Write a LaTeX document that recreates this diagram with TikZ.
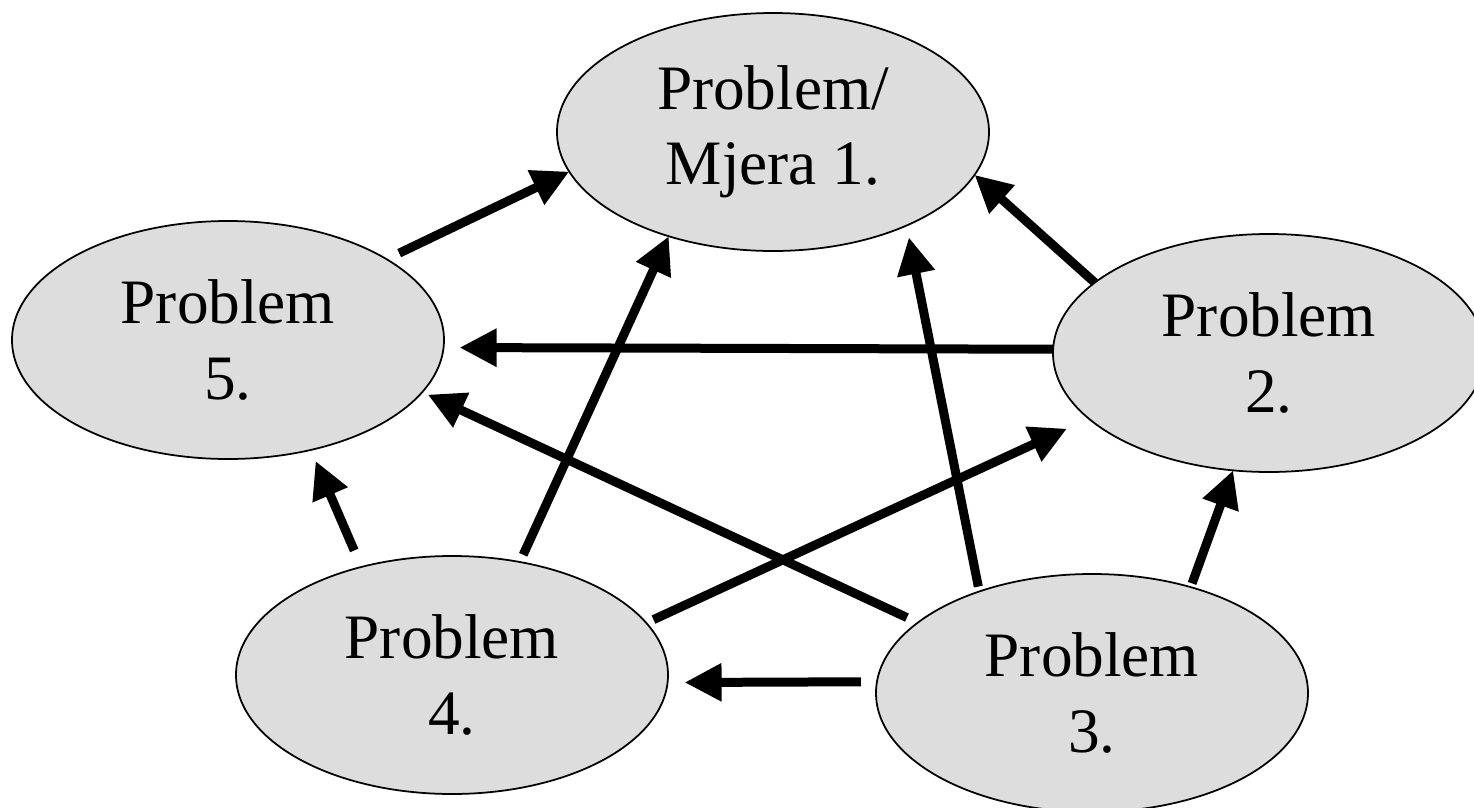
\documentclass[tikz,border=0pt]{standalone}
\usepackage{fontspec}
\setmainfont{Liberation Serif}
\usetikzlibrary{positioning,arrows.meta,shapes}
\definecolor{bubble}{HTML}{DDDDDD}

\begin{document}
\begin{tikzpicture}[
    base/.style = {ellipse, draw=black, line width=0.5pt, fill=bubble, minimum width=4.32cm, minimum height=2.38cm, inner sep=0pt, outer sep=0pt, align=center, font=\fontsize{18}{21.5}\selectfont},
    flow/.style = {-{Triangle[length=0.37cm, width=0.36cm]}, line width=0.09cm},
]
    \useasboundingbox (0,0) rectangle (14.74,-8.08);

    % problems
    \node[base] (p1) at (7.73,-1.32) {Problem/\\ Mjera 1.};
    \node[base] (p2) at (12.69,-3.53) {Problem\\ 2.};
    \node[base] (p3) at (10.92,-6.93) {Problem\\ 3.};
    \node[base] (p4) at (4.52,-6.75) {Problem\\ 4.};
    \node[base] (p5) at (2.28,-3.40) {Problem\\ 5.};

    % flows
    \draw[flow, shorten <=0.14cm] (p5.27) -- (p1.191.5);
    \draw[flow] (p2.158) -- (p1.348.5);
    \draw[flow, shorten >=0.16cm] (p2.179) -- (p5.358);
    \draw[flow, shorten <=0.12cm, shorten >=0.06cm] (p3.158) -- (p5.345);
    \draw[flow, shorten <=0.05cm, shorten >=0.12cm] (p3.138.8) -- (p1.325.5);
    \draw[flow, shorten <=0.04cm] (p3.47) -- (p2.253);
    \draw[flow, shorten <=0.16cm, shorten >=0.17cm] (p3.177) -- (p4.358);
    \draw[flow, shorten <=0.08cm] (p4.59) -- (p1.225);
    \draw[flow, shorten <=0.08cm, shorten >=0.24cm] (p4.15) -- (p2.200.5);
    \draw[flow, shorten <=0.18cm, shorten >=0.12cm] (p4.130) -- (p5.307);

\end{tikzpicture}
\end{document}
